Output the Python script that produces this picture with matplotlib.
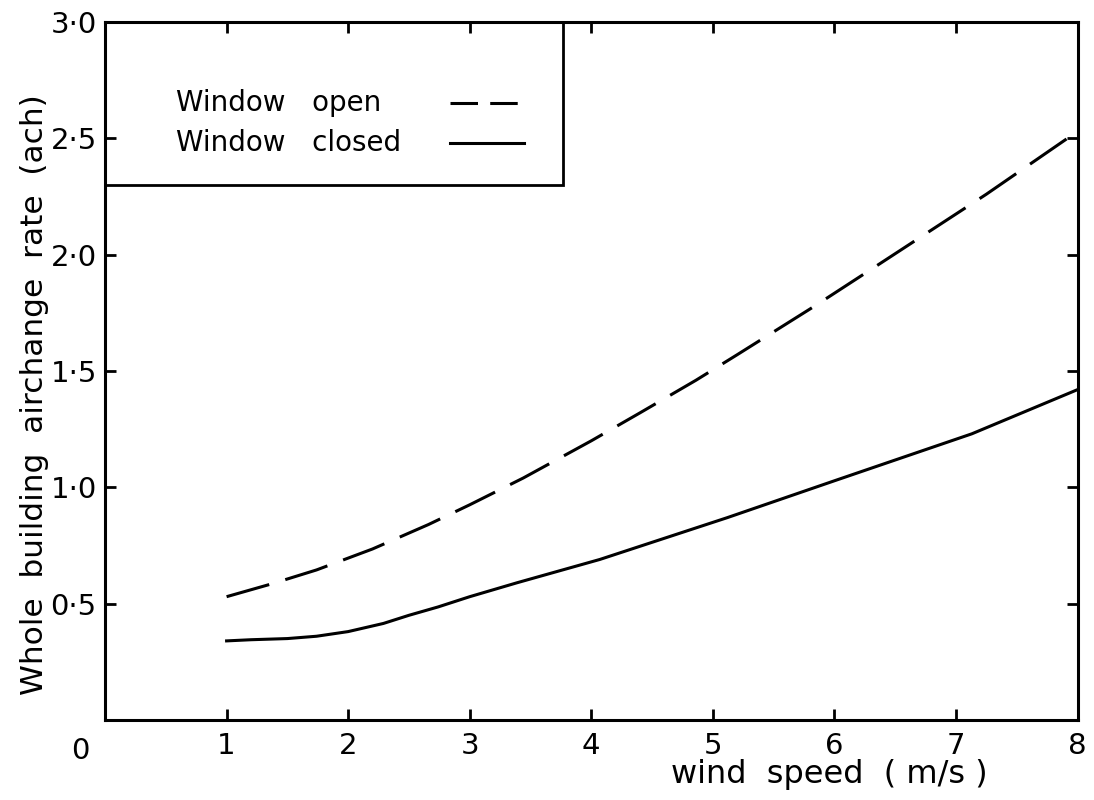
import matplotlib
matplotlib.use("Agg")
import matplotlib.pyplot as plt
from matplotlib.patches import Rectangle

# data
wind_open = [1, 1.37, 1.74, 2.2, 2.66, 3.0, 3.44, 4.0, 4.4, 4.86, 5.2, 5.84, 6.37, 6.81, 7.25, 8.0]
ach_open = [0.53, 0.585, 0.645, 0.735, 0.84, 0.925, 1.04, 1.2, 1.32, 1.46, 1.57, 1.78, 1.96, 2.11, 2.26, 2.53]

wind_closed = [1, 1.2, 1.5, 1.74, 2.0, 2.29, 2.5, 2.74, 3.0, 3.39, 4.07, 5.12, 6.01, 7.13, 8.0]
ach_closed = [0.34, 0.345, 0.35, 0.36, 0.38, 0.415, 0.45, 0.486, 0.53, 0.59, 0.69, 0.87, 1.03, 1.23, 1.42]

xticks = [1, 2, 3, 4, 5, 6, 7, 8]
yticks = [0.5, 1.0, 1.5, 2.0, 2.5, 3.0]
ytick_labels = ['0·5', '1·0', '1·5', '2·0', '2·5', '3·0']

plt.rcParams['font.family'] = ['DejaVu Sans']

fig = plt.figure(figsize=(10.94, 8.0), dpi=100)
ax = fig.add_axes([0.096, 0.1, 0.889, 0.8725])

lw = 2.2
ax.plot(wind_open, ach_open, color='black', lw=lw, linestyle=(0, (14.5, 5.5)))
ax.plot(wind_closed, ach_closed, color='black', lw=lw)

ax.set_xlim(0, 8)
ax.set_ylim(0, 3)
for s in ax.spines.values():
    s.set_linewidth(2.2)

ax.set_xticks(xticks)
ax.set_xticklabels([str(t) for t in xticks])
ax.set_yticks(yticks)
ax.set_yticklabels(ytick_labels)
ax.tick_params(direction='in', length=8, width=2, labelsize=21,
               top=True, right=True)
ax.tick_params(axis='x', pad=9)
ax.tick_params(axis='y', pad=6)

# origin label sitting at the corner
ax.annotate('0', xy=(0, 0), xytext=(-18, -12), textcoords='offset points',
            ha='center', va='top', fontsize=21)

ax.set_xlabel('wind  speed  ( m/s )', fontsize=23)
ax.xaxis.set_label_coords(0.745, -0.056)
ax.set_ylabel('Whole  building  airchange  rate  (ach)', fontsize=22.5)
ax.yaxis.set_label_coords(-0.058, 0.466)

# hand-drawn legend box in the top-left corner
ax.add_patch(Rectangle((0, 2.30), 3.77, 0.70, fill=False, edgecolor='black',
                       lw=2.0, clip_on=False))
ax.text(0.58, 2.65, 'Window   open', fontsize=20, va='center')
ax.text(0.58, 2.48, 'Window   closed', fontsize=20, va='center')
ax.plot([2.84, 3.45], [2.65, 2.65], color='black', lw=lw,
        linestyle=(0, (9, 4)))
ax.plot([2.84, 3.45], [2.48, 2.48], color='black', lw=lw)

fig.savefig('out.png', dpi=100)
